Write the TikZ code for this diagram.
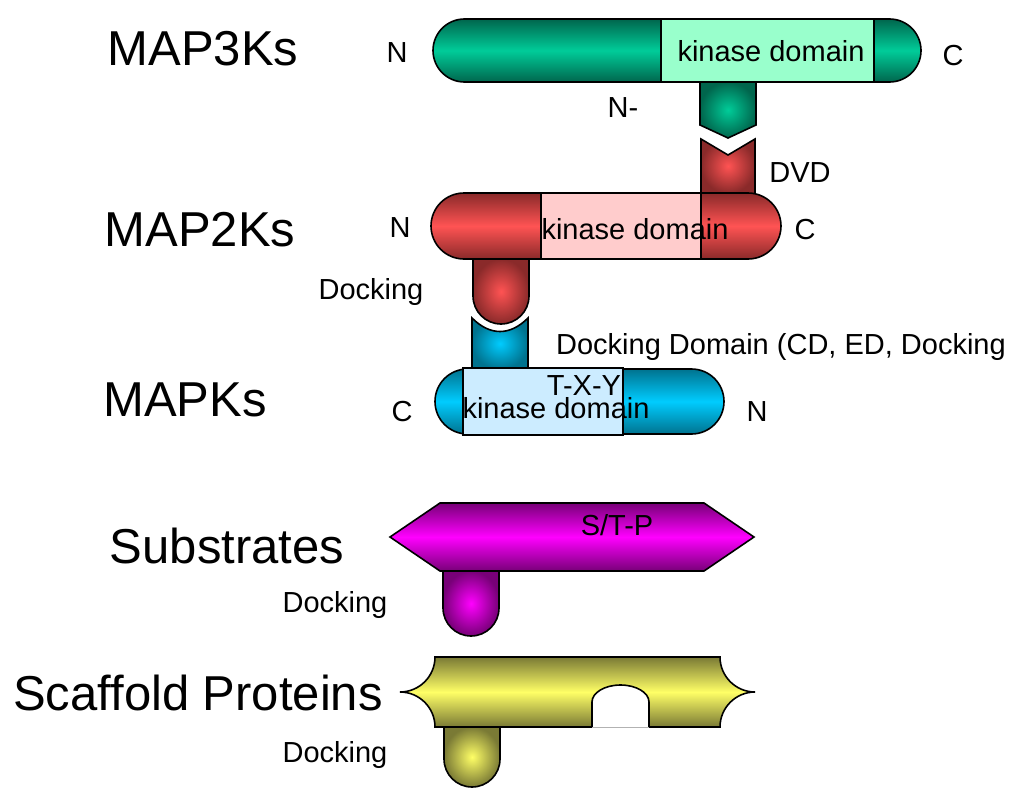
\documentclass[tikz,border=0pt]{standalone}
\usepackage{fontspec}
\setmainfont{Liberation Sans}
\usepackage{xcolor}
\definecolor{grnL}{HTML}{00CC99}
\definecolor{grnD}{HTML}{00664D}
\definecolor{grnK}{HTML}{99FFCC}
\definecolor{redL}{HTML}{FF5353}
\definecolor{redD}{HTML}{8A2A2A}
\definecolor{redK}{HTML}{FFCCCC}
\definecolor{bluL}{HTML}{00CCFF}
\definecolor{bluD}{HTML}{00738F}
\definecolor{bluK}{HTML}{CCECFF}
\definecolor{magL}{HTML}{FF00FF}
\definecolor{magD}{HTML}{780078}
\definecolor{yelL}{HTML}{FFFF66}
\definecolor{yelD}{HTML}{7A7A35}
\tikzset{
  tube/.style 2 args={draw=black, line width=1.6pt, top color=#2, bottom color=#2, middle color=#1},
  knob/.style 2 args={draw=black, line width=1.6pt, inner color=#1, outer color=#2},
  kbox/.style={draw=black, line width=1.4pt, fill=#1},
  big/.style={font=\fontsize{49}{55}\selectfont, inner sep=0pt, anchor=base},
  lab/.style={font=\fontsize{29}{33}\selectfont, inner sep=0pt, anchor=base}
}

\begin{document}
\begin{tikzpicture}[x=1pt, y=-1pt]
\useasboundingbox (0,0) rectangle (1022,800);

\draw [knob={grnL}{grnD}] (700,82) -- (700,125) -- (728,138) -- (756,125) -- (756,82);
\draw [tube={grnL}{grnD}, rounded corners=31.5pt] (433,19) rectangle (921,82);
\draw [kbox=grnK] (661,19) rectangle (874,82);

\draw [knob={redL}{redD}] (701,193) -- (701,139) -- (728,155) -- (755,139) -- (755,193);
\draw [knob={redL}{redD}, rounded corners=28pt] (473,259) -- (473,324) -- (529,324) -- (529,259);
\draw [tube={redL}{redD}, rounded corners=33pt] (431,193) rectangle (781,259);
\draw [kbox=redK] (541,193) rectangle (701,259);

\draw [knob={bluL}{bluD}] (472,369) -- (472,318) .. controls (490,336) and (510,336) .. (528,318) -- (528,369);
\draw [tube={bluL}{bluD}, rounded corners=32.5pt] (435,369) rectangle (724,434);
\draw [kbox=bluK] (463,368) rectangle (623,435);

\draw [knob={magL}{magD}, rounded corners=28pt] (443,571) -- (443,636) -- (499,636) -- (499,571);
\draw [tube={magL}{magD}] (390,537) -- (440,503) -- (704,503) -- (754,537) -- (704,571) -- (440,571) -- cycle;

\draw [knob={yelL}{yelD}, rounded corners=28pt] (444,727) -- (444,787) -- (500,787) -- (500,727);
\draw [tube={yelL}{yelD}] (435,657) -- (720,657)
  .. controls (720,676.3) and (735.7,692) .. (755,692)
  .. controls (735.7,692) and (720,707.7) .. (720,727) -- (649,727) -- (649,702)
  .. controls (649,692.6) and (636.2,685) .. (620.5,685)
  .. controls (604.8,685) and (592,692.6) .. (592,702) -- (592,727) -- (435,727)
  .. controls (435,707.7) and (419.3,692) .. (400,692)
  .. controls (419.3,692) and (435,676.3) .. (435,657) -- cycle;
\draw [black!30, line width=1pt] (592,727) -- (649,727);

\node (K3) at (203,66) [big] {MAP3Ks};
\node (K2) at (200,246) [big] {MAP2Ks};
\node (K1) at (185,416) [big] {MAPKs};
\node (Sub) at (227,563) [big] {Substrates};
\node (Scf) at (198,710) [big] {Scaffold Proteins};

\node (N3) at (397,63) [lab] {N};
\node (C3) at (953,66) [lab] {C};
\node (KD3) at (771,62) [lab] {kinase domain};
\node (Nm) at (623,117) [lab] {N-};
\node (DVD) at (800,182) [lab] {DVD};

\node (N2) at (400,237) [lab] {N};
\node (C2) at (805,239) [lab] {C};
\node (KD2) at (635,239) [lab] {kinase domain};
\node (Dk2) at (371,299) [lab] {Docking};

\node (DD) at (781,354) [lab] {Docking Domain (CD, ED, Docking};
\node (TXY) at (584,395) [lab] {T-X-Y};
\node (KD1) at (556,418) [lab] {kinase domain};
\node (C1) at (402,421) [lab] {C};
\node (N1) at (757,421) [lab] {N};

\node (STP) at (617,535) [lab] {S/T-P};
\node (DkS) at (335,612) [lab] {Docking};
\node (DkF) at (335,762) [lab] {Docking};
\end{tikzpicture}
\end{document}
